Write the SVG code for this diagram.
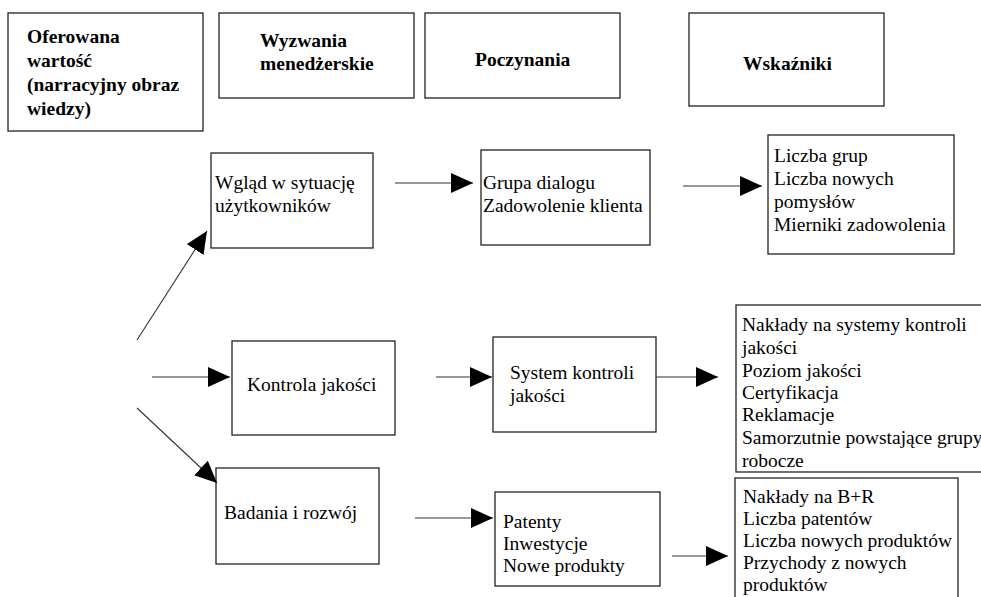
<svg xmlns="http://www.w3.org/2000/svg" width="981" height="597" viewBox="0 0 981 597">
<style>
.box{fill:#fff;stroke:#222;stroke-width:1.3}
.t{font-family:"Liberation Serif","Times New Roman",serif;font-size:19.5px;fill:#000}
.b{font-family:"Liberation Serif","Times New Roman",serif;font-size:19.5px;font-weight:bold;fill:#000}
.c{stroke:#333;stroke-width:1.1;fill:none;marker-end:url(#ah)}
</style>
<defs>
<marker id="ah" viewBox="0 0 22 20" markerWidth="22" markerHeight="20" refX="22" refY="10" orient="auto" markerUnits="userSpaceOnUse">
<path d="M0,0 L22,10 L0,20 z" fill="#000"/>
</marker>
</defs>
<rect width="981" height="597" fill="#fff"/>
<g id="h1"><rect class="box" x="8" y="13" width="195" height="118"/>
<text class="b" x="27" y="43">Oferowana</text><text class="b" x="27" y="67">wartość</text><text class="b" x="27" y="91">(narracyjny obraz</text><text class="b" x="27" y="115">wiedzy)</text></g>
<g id="h2"><rect class="box" x="219" y="13" width="195" height="85"/>
<text class="b" x="260" y="47">Wyzwania</text><text class="b" x="260" y="70">menedżerskie</text></g>
<g id="h3"><rect class="box" x="425" y="13" width="195" height="85"/>
<text class="b" x="475" y="66">Poczynania</text></g>
<g id="h4"><rect class="box" x="689" y="13" width="195" height="93"/>
<text class="b" x="743" y="70">Wskaźniki</text></g>

<g id="n1"><rect class="box" x="211" y="153" width="162" height="95"/>
<text class="t" x="215" y="189">Wgląd w sytuację</text><text class="t" x="215" y="212">użytkowników</text></g>
<g id="n2"><rect class="box" x="481" y="150" width="169" height="95"/>
<text class="t" x="483" y="189">Grupa dialogu</text><text class="t" x="483" y="212">Zadowolenie klienta</text></g>
<g id="n3"><rect class="box" x="768" y="135" width="186" height="119"/>
<text class="t" x="774" y="162">Liczba grup</text><text class="t" x="774" y="185">Liczba nowych</text><text class="t" x="774" y="208">pomysłów</text><text class="t" x="774" y="231">Mierniki zadowolenia</text></g>

<g id="n4"><rect class="box" x="232" y="341" width="163" height="94"/>
<text class="t" x="247" y="391">Kontrola jakości</text></g>
<g id="n5"><rect class="box" x="493" y="337" width="163" height="95"/>
<text class="t" x="510" y="379">System kontroli</text><text class="t" x="510" y="402">jakości</text></g>
<g id="n6"><rect class="box" x="736" y="305" width="262" height="167"/>
<text class="t" x="742" y="331">Nakłady na systemy kontroli</text><text class="t" x="742" y="354">jakości</text><text class="t" x="742" y="377">Poziom jakości</text><text class="t" x="742" y="399">Certyfikacja</text><text class="t" x="742" y="421">Reklamacje</text><text class="t" x="742" y="444">Samorzutnie powstające grupy</text><text class="t" x="742" y="467">robocze</text></g>

<g id="n7"><rect class="box" x="216" y="468" width="163" height="96"/>
<text class="t" x="224" y="519">Badania i rozwój</text></g>
<g id="n8"><rect class="box" x="495" y="492" width="165" height="94"/>
<text class="t" x="503" y="528">Patenty</text><text class="t" x="503" y="550">Inwestycje</text><text class="t" x="503" y="572">Nowe produkty</text></g>
<g id="n9"><rect class="box" x="735" y="478" width="223" height="135"/>
<text class="t" x="743" y="503">Nakłady na B+R</text><text class="t" x="743" y="525">Liczba patentów</text><text class="t" x="743" y="547">Liczba nowych produktów</text><text class="t" x="743" y="569">Przychody z nowych</text><text class="t" x="743" y="591">produktów</text></g>

<g id="connectors">
<line class="c" x1="137" y1="340" x2="207" y2="231"/>
<line class="c" x1="152" y1="377" x2="230" y2="377"/>
<line class="c" x1="137" y1="408" x2="217" y2="483"/>
<line class="c" x1="395" y1="183" x2="473" y2="183"/>
<line class="c" x1="683" y1="186" x2="762" y2="186"/>
<line class="c" x1="436" y1="377" x2="492" y2="377"/>
<line class="c" x1="656" y1="377" x2="718" y2="377"/>
<line class="c" x1="415" y1="518" x2="493" y2="518"/>
<line class="c" x1="672" y1="556" x2="728" y2="556"/>
</g>
</svg>
